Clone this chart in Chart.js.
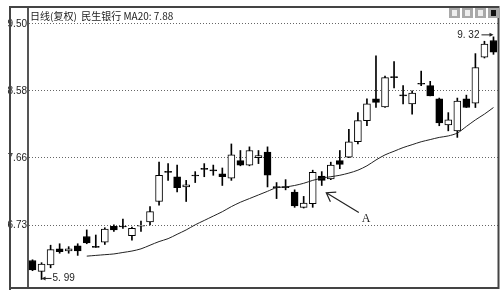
<!DOCTYPE html>
<html>
<head>
<meta charset="utf-8">
<script src="https://cdn.jsdelivr.net/npm/chart.js@4"></script>
<style>
html, body { margin: 0; padding: 0; background: #fff; }
</style>
</head>
<body>
<canvas id="kline" width="503" height="293"></canvas>
<script>
// daily candles (52 trading days)
const opens  = [6.25, 6.10, 6.19, 6.41, 6.38, 6.45, 6.58, 6.43, 6.50, 6.72, 6.72, 6.59, 6.72, 6.78, 7.06, 7.47, 7.40, 7.26, 7.42, 7.50,
                7.48, 7.44, 7.38, 7.62, 7.56, 7.66, 7.74, 7.25, 7.25, 7.19, 6.98, 7.03, 7.41, 7.37, 7.62, 7.67, 7.88, 8.17, 8.47, 8.36,
                8.76, 8.51, 8.40, 8.67, 8.65, 8.47, 8.11, 8.03, 8.47, 8.41, 9.04, 9.27];
const highs  = [6.26, 6.22, 6.46, 6.48, 6.44, 6.48, 6.67, 6.60, 6.70, 6.74, 6.82, 6.71, 6.79, 6.99, 7.60, 7.58, 7.56, 7.35, 7.47, 7.58,
                7.56, 7.52, 7.85, 7.76, 7.81, 7.76, 7.81, 7.32, 7.36, 7.22, 7.13, 7.49, 7.47, 7.60, 7.76, 8.05, 8.28, 8.47, 9.06, 8.78,
                8.98, 8.65, 8.58, 8.85, 8.71, 8.48, 8.28, 8.48, 8.52, 9.09, 9.26, 9.32];
const lows   = [6.11, 5.99, 6.15, 6.35, 6.35, 6.32, 6.48, 6.43, 6.47, 6.65, 6.69, 6.53, 6.65, 6.74, 7.01, 7.35, 7.19, 7.06, 7.32, 7.40,
                7.42, 7.28, 7.35, 7.55, 7.55, 7.58, 7.26, 7.10, 7.22, 6.98, 6.97, 6.98, 7.28, 7.36, 7.51, 7.66, 7.85, 8.10, 8.35, 8.35,
                8.62, 8.40, 8.26, 8.65, 8.51, 8.10, 8.03, 7.94, 8.35, 8.35, 9.03, 9.08];
const closes = [6.12, 6.20, 6.40, 6.37, 6.41, 6.38, 6.49, 6.43, 6.68, 6.67, 6.71, 6.69, 6.73, 6.92, 7.42, 7.46, 7.25, 7.29, 7.41, 7.50,
                7.48, 7.40, 7.70, 7.56, 7.76, 7.69, 7.42, 7.25, 7.25, 7.00, 7.04, 7.46, 7.35, 7.56, 7.57, 7.88, 8.17, 8.40, 8.42, 8.76,
                8.76, 8.51, 8.55, 8.67, 8.51, 8.14, 8.18, 8.44, 8.35, 8.90, 9.22, 9.11];
// 20 day moving average (visible from day 7)
const ma20 = [null, null, null, null, null, null,
              6.31, 6.32, 6.33, 6.34, 6.36, 6.38, 6.41, 6.46, 6.51, 6.55, 6.61, 6.67, 6.74, 6.80,
              6.86, 6.92, 6.99, 7.05, 7.10, 7.15, 7.20, 7.25, 7.26, 7.28, 7.31, 7.35, 7.38, 7.40,
              7.42, 7.45, 7.49, 7.55, 7.63, 7.70, 7.75, 7.80, 7.84, 7.88, 7.91, 7.94, 7.96, 8.00,
              8.09, 8.18, 8.26, 8.35];
const days = opens.map((_, i) => i + 1);
const yTicks = [6.73, 7.66, 8.58, 9.50];
const titleText = '日线(复权)  民生银行 MA20: 7.88';

// arrow "A" (in data coords: day index, price)
const arrowA = { tip: [32.5, 7.18], tail: [36.1, 6.91], text: 'A', textAt: [36.9, 6.82] };

const fmtMark = v => v.toFixed(2).replace('.', '. ');

const decor = {
    id: 'decor',
    afterDraw(chart) {
        const ctx = chart.ctx;
        const xs = chart.scales.x, ys = chart.scales.y;
        ctx.save();

        // Rahmen
        ctx.strokeStyle = '#444';
        ctx.lineWidth = 2;
        ctx.beginPath();
        ctx.moveTo(9, 7); ctx.lineTo(499, 7);
        ctx.moveTo(10, 6); ctx.lineTo(10, 290);
        ctx.moveTo(9, 288); ctx.lineTo(499, 288);
        ctx.moveTo(498.5, 6); ctx.lineTo(498.5, 289);
        ctx.stroke();

        // toolbar icons
        const icons = [449, 462, 475, 488];
        icons.forEach((ix, k) => {
            ctx.fillStyle = '#a9a9a9';
            ctx.fillRect(ix, 8, 11, 10);
            ctx.fillStyle = k === 3 ? '#111' : '#eee';
            ctx.fillRect(ix + 3, 10, 5, 6);
        });

        // title
        ctx.fillStyle = '#222';
        ctx.font = '10px "Noto Sans CJK SC", sans-serif';
        ctx.textBaseline = 'middle';
        ctx.textAlign = 'left';
        ctx.fillText(titleText, 30, 16);

        // max marker
        ctx.font = '10px "Liberation Sans", sans-serif';
        ctx.strokeStyle = '#222';
        ctx.lineWidth = 1;
        const iMax = highs.indexOf(Math.max(...highs));
        const xm = xs.getPixelForValue(iMax), ym = ys.getPixelForValue(highs[iMax]) - 2;
        ctx.beginPath();
        ctx.moveTo(xm - 12, ym); ctx.lineTo(xm - 2, ym);
        ctx.stroke();
        ctx.beginPath();
        ctx.moveTo(xm, ym); ctx.lineTo(xm - 4, ym - 2); ctx.lineTo(xm - 4, ym + 2); ctx.closePath();
        ctx.fill();
        ctx.textAlign = 'right';
        ctx.fillText(fmtMark(highs[iMax]), xm - 14, ym);

        // min marker
        const iMin = lows.indexOf(Math.min(...lows));
        const xl = xs.getPixelForValue(iMin), yl = ys.getPixelForValue(lows[iMin]) - 1;
        ctx.beginPath();
        ctx.moveTo(xl + 2, yl); ctx.lineTo(xl + 10, yl);
        ctx.stroke();
        ctx.beginPath();
        ctx.moveTo(xl, yl); ctx.lineTo(xl + 4, yl - 2); ctx.lineTo(xl + 4, yl + 2); ctx.closePath();
        ctx.fill();
        ctx.textAlign = 'left';
        ctx.fillText(fmtMark(lows[iMin]), xl + 11, yl);

        // arrow A
        const tx = xs.getPixelForValue(arrowA.tip[0]), ty = ys.getPixelForValue(arrowA.tip[1]);
        const bx = xs.getPixelForValue(arrowA.tail[0]), by = ys.getPixelForValue(arrowA.tail[1]);
        const ang = Math.atan2(by - ty, bx - tx);
        ctx.lineWidth = 1.2;
        ctx.beginPath();
        ctx.moveTo(bx, by); ctx.lineTo(tx, ty);
        ctx.moveTo(tx + 10 * Math.cos(ang - 0.6), ty + 10 * Math.sin(ang - 0.6));
        ctx.lineTo(tx, ty);
        ctx.lineTo(tx + 10 * Math.cos(ang + 0.6), ty + 10 * Math.sin(ang + 0.6));
        ctx.stroke();
        ctx.font = '12px "Liberation Serif", serif';
        ctx.textAlign = 'center';
        ctx.fillText(arrowA.text, xs.getPixelForValue(arrowA.textAt[0]), ys.getPixelForValue(arrowA.textAt[1]));

        ctx.restore();
    }
};

const ctx = document.getElementById('kline').getContext('2d');
new Chart(ctx, {
    data: {
        labels: days,
        datasets: [
            {
                type: 'line',
                label: 'MA20',
                data: ma20,
                borderColor: '#222',
                borderWidth: 1,
                pointRadius: 0,
                tension: 0.3,
                order: 0
            },
            {
                type: 'bar',
                label: 'body',
                data: opens.map((o, i) => [o, closes[i]]),
                backgroundColor: opens.map((o, i) => closes[i] <= o ? '#000' : '#fff'),
                borderColor: '#000',
                borderWidth: 1,
                borderSkipped: false,
                barThickness: 7,
                minBarLength: 1,
                grouped: false,
                order: 1
            },
            {
                type: 'bar',
                label: 'wick',
                data: lows.map((l, i) => [l, highs[i]]),
                backgroundColor: '#000',
                barThickness: 1,
                grouped: false,
                order: 2
            }
        ]
    },
    options: {
        responsive: false,
        animation: false,
        devicePixelRatio: 1,
        layout: { padding: { left: 0, top: 7, right: 5, bottom: 5 } },
        plugins: { legend: { display: false }, tooltip: { enabled: false } },
        scales: {
            x: { display: false, offset: true },
            y: {
                position: 'left',
                min: 5.90,
                max: 9.73,
                afterBuildTicks: scale => { scale.ticks = yTicks.map(v => ({ value: v })); },
                afterFit: scale => { scale.width = 28; },
                ticks: {
                    padding: 1,
                    color: '#222',
                    font: { family: '"Liberation Sans", sans-serif', size: 10 },
                    callback: v => v.toFixed(2)
                },
                grid: { color: '#666', lineWidth: 1, drawTicks: false },
                border: { color: '#555', width: 2, dash: [1, 2] }
            }
        }
    },
    plugins: [decor]
});
</script>
</body>
</html>
